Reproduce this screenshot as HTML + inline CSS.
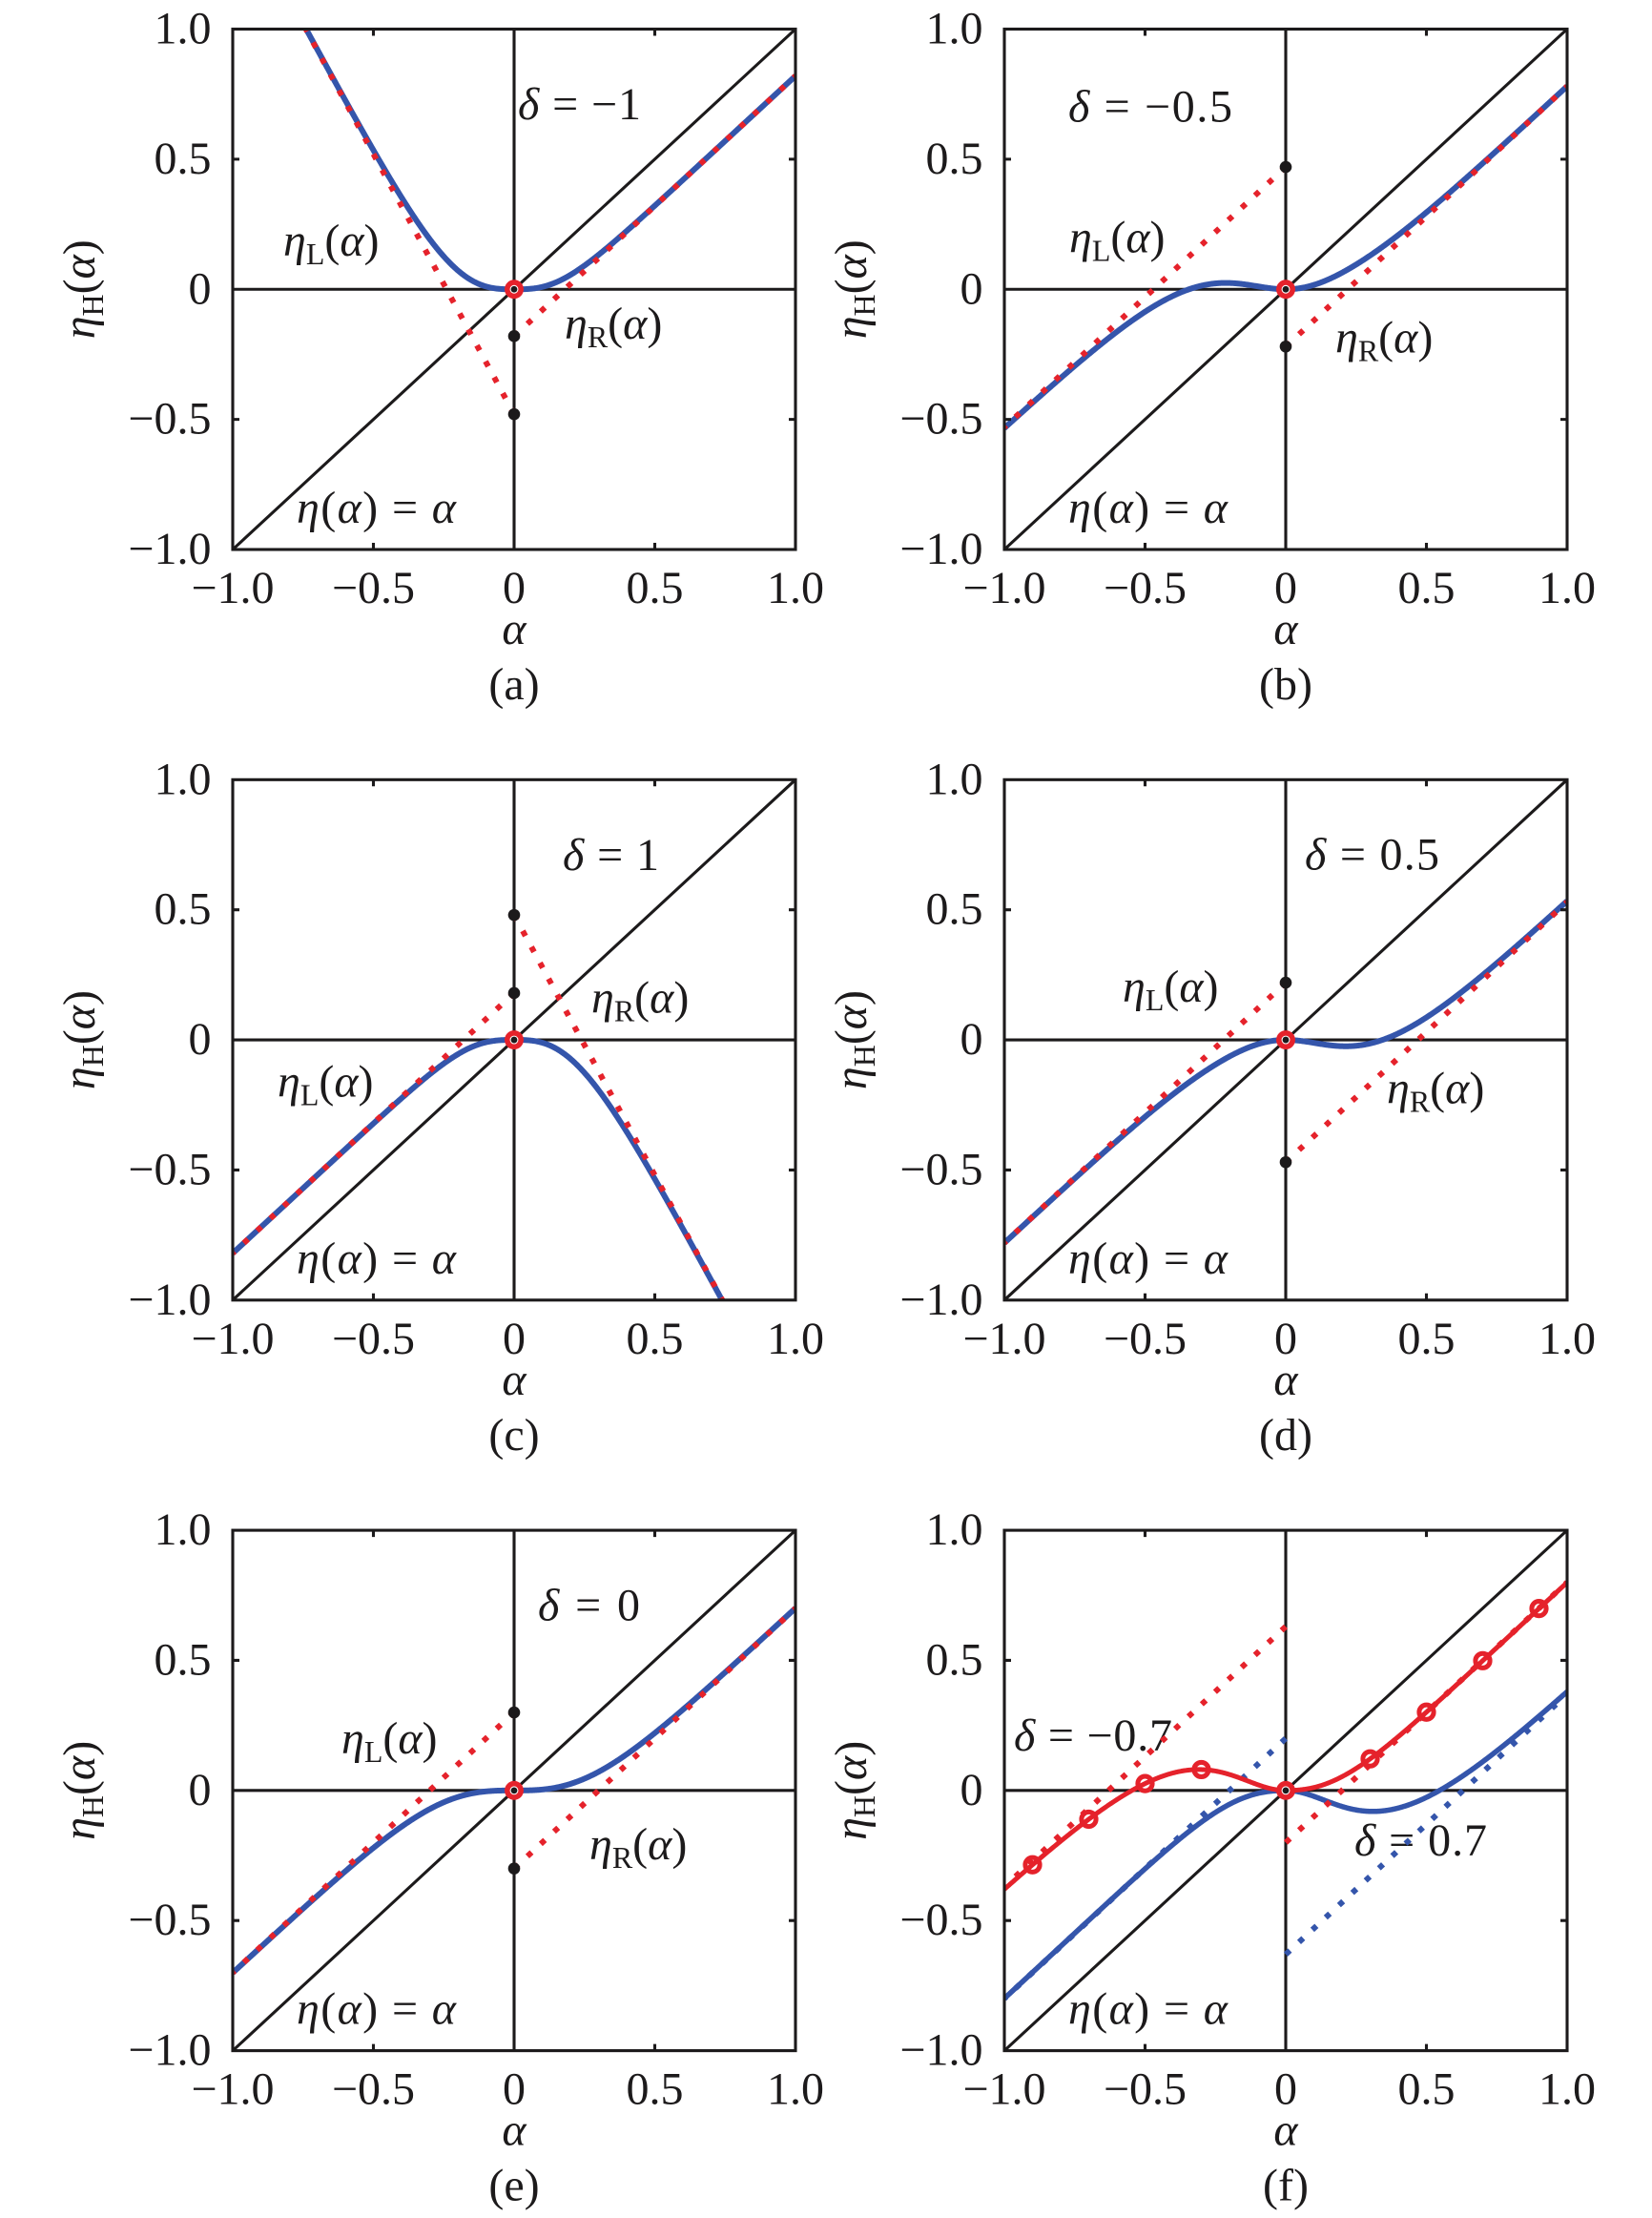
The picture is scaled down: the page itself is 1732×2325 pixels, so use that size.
<!DOCTYPE html>
<html>
<head>
<meta charset="utf-8">
<style>
html,body{margin:0;padding:0;background:#fff;}
svg{display:block;}
text{font-family:"Liberation Serif","DejaVu Serif",serif;font-size:48px;fill:#1c1a1b;}
.ln{fill:none;stroke:#1c1a1b;stroke-width:3.1;}
.it{font-style:italic;}
</style>
</head>
<body>
<svg xmlns="http://www.w3.org/2000/svg" width="1732" height="2325" viewBox="0 0 1732 2325">
<defs><clipPath id="clip" clipPathUnits="userSpaceOnUse"><rect x="0" y="0" width="590" height="545.5"/></clipPath></defs>
<rect x="0" y="0" width="1732" height="2325" fill="#fff"/>

<!-- Panel (a) -->
<g transform="translate(244,30.5)">
 <path class="ln" d="M0 272.75H590M295 0V545.5M0 545.5L590 0"/>
 <text x="299" y="94.5" textLength="129" lengthAdjust="spacing"><tspan class="it">δ</tspan> = −1</text>
 <text x="53" y="237.5"><tspan class="it">η</tspan><tspan font-size="32" dy="9">L</tspan><tspan dy="-9">(</tspan><tspan class="it">α</tspan>)</text>
 <text x="348" y="324.5"><tspan class="it">η</tspan><tspan font-size="32" dy="9">R</tspan><tspan dy="-9">(</tspan><tspan class="it">α</tspan>)</text>
 <text x="67" y="517.5" textLength="167" lengthAdjust="spacing"><tspan class="it">η</tspan>(<tspan class="it">α</tspan>) = <tspan class="it">α</tspan></text>
 <g id="ca"></g>
 <rect class="ln" x="0" y="0" width="590" height="545.5"/>
 <path class="ln" d="M147.5 545.5v-7M442.5 545.5v-7M147.5 0v7M442.5 0v7M0 136.375h7M0 409.125h7M590 136.375h-7M590 409.125h-7"/>
 <g text-anchor="end"><text x="-22.5" y="15">1.0</text><text x="-22.5" y="151.4">0.5</text><text x="-22.5" y="287.75">0</text><text x="-22.5" y="424.1">−0.5</text><text x="-22.5" y="560.5">−1.0</text></g>
 <g text-anchor="middle"><text x="0" y="601.5">−1.0</text><text x="147.5" y="601.5">−0.5</text><text x="295" y="601.5">0</text><text x="442.5" y="601.5">0.5</text><text x="590" y="601.5">1.0</text>
 <text x="295" y="644.5" class="it">α</text><text x="295" y="702.5">(a)</text></g>
 <text transform="translate(-145,272.75) rotate(-90)" text-anchor="middle"><tspan class="it">η</tspan><tspan font-size="32" dy="9">H</tspan><tspan dy="-9">(</tspan><tspan class="it">α</tspan>)</text>
</g>

<!-- Panel (b) -->
<g transform="translate(1053,30.5)">
 <path class="ln" d="M0 272.75H590M295 0V545.5M0 545.5L590 0"/>
 <text x="67" y="97" textLength="172" lengthAdjust="spacing"><tspan class="it">δ</tspan> = −0.5</text>
 <text x="68" y="234"><tspan class="it">η</tspan><tspan font-size="32" dy="9">L</tspan><tspan dy="-9">(</tspan><tspan class="it">α</tspan>)</text>
 <text x="347" y="339"><tspan class="it">η</tspan><tspan font-size="32" dy="9">R</tspan><tspan dy="-9">(</tspan><tspan class="it">α</tspan>)</text>
 <text x="67" y="517.5" textLength="167" lengthAdjust="spacing"><tspan class="it">η</tspan>(<tspan class="it">α</tspan>) = <tspan class="it">α</tspan></text>
 <g id="cb"></g>
 <rect class="ln" x="0" y="0" width="590" height="545.5"/>
 <path class="ln" d="M147.5 545.5v-7M442.5 545.5v-7M147.5 0v7M442.5 0v7M0 136.375h7M0 409.125h7M590 136.375h-7M590 409.125h-7"/>
 <g text-anchor="end"><text x="-22.5" y="15">1.0</text><text x="-22.5" y="151.4">0.5</text><text x="-22.5" y="287.75">0</text><text x="-22.5" y="424.1">−0.5</text><text x="-22.5" y="560.5">−1.0</text></g>
 <g text-anchor="middle"><text x="0" y="601.5">−1.0</text><text x="147.5" y="601.5">−0.5</text><text x="295" y="601.5">0</text><text x="442.5" y="601.5">0.5</text><text x="590" y="601.5">1.0</text>
 <text x="295" y="644.5" class="it">α</text><text x="295" y="702.5">(b)</text></g>
 <text transform="translate(-145,272.75) rotate(-90)" text-anchor="middle"><tspan class="it">η</tspan><tspan font-size="32" dy="9">H</tspan><tspan dy="-9">(</tspan><tspan class="it">α</tspan>)</text>
</g>

<!-- Panel (c) -->
<g transform="translate(244,817.3)">
 <path class="ln" d="M0 272.75H590M295 0V545.5M0 545.5L590 0"/>
 <text x="346" y="94.5" textLength="101" lengthAdjust="spacing"><tspan class="it">δ</tspan> = 1</text>
 <text x="376" y="244"><tspan class="it">η</tspan><tspan font-size="32" dy="9">R</tspan><tspan dy="-9">(</tspan><tspan class="it">α</tspan>)</text>
 <text x="47" y="332"><tspan class="it">η</tspan><tspan font-size="32" dy="9">L</tspan><tspan dy="-9">(</tspan><tspan class="it">α</tspan>)</text>
 <text x="67" y="517.5" textLength="167" lengthAdjust="spacing"><tspan class="it">η</tspan>(<tspan class="it">α</tspan>) = <tspan class="it">α</tspan></text>
 <g id="cc"></g>
 <rect class="ln" x="0" y="0" width="590" height="545.5"/>
 <path class="ln" d="M147.5 545.5v-7M442.5 545.5v-7M147.5 0v7M442.5 0v7M0 136.375h7M0 409.125h7M590 136.375h-7M590 409.125h-7"/>
 <g text-anchor="end"><text x="-22.5" y="15">1.0</text><text x="-22.5" y="151.4">0.5</text><text x="-22.5" y="287.75">0</text><text x="-22.5" y="424.1">−0.5</text><text x="-22.5" y="560.5">−1.0</text></g>
 <g text-anchor="middle"><text x="0" y="601.5">−1.0</text><text x="147.5" y="601.5">−0.5</text><text x="295" y="601.5">0</text><text x="442.5" y="601.5">0.5</text><text x="590" y="601.5">1.0</text>
 <text x="295" y="644.5" class="it">α</text><text x="295" y="702.5">(c)</text></g>
 <text transform="translate(-145,272.75) rotate(-90)" text-anchor="middle"><tspan class="it">η</tspan><tspan font-size="32" dy="9">H</tspan><tspan dy="-9">(</tspan><tspan class="it">α</tspan>)</text>
</g>

<!-- Panel (d) -->
<g transform="translate(1053,817.3)">
 <path class="ln" d="M0 272.75H590M295 0V545.5M0 545.5L590 0"/>
 <text x="315" y="94.4" textLength="141" lengthAdjust="spacing"><tspan class="it">δ</tspan> = 0.5</text>
 <text x="124" y="232.7"><tspan class="it">η</tspan><tspan font-size="32" dy="9">L</tspan><tspan dy="-9">(</tspan><tspan class="it">α</tspan>)</text>
 <text x="401" y="339.4"><tspan class="it">η</tspan><tspan font-size="32" dy="9">R</tspan><tspan dy="-9">(</tspan><tspan class="it">α</tspan>)</text>
 <text x="67" y="517.5" textLength="167" lengthAdjust="spacing"><tspan class="it">η</tspan>(<tspan class="it">α</tspan>) = <tspan class="it">α</tspan></text>
 <g id="cd"></g>
 <rect class="ln" x="0" y="0" width="590" height="545.5"/>
 <path class="ln" d="M147.5 545.5v-7M442.5 545.5v-7M147.5 0v7M442.5 0v7M0 136.375h7M0 409.125h7M590 136.375h-7M590 409.125h-7"/>
 <g text-anchor="end"><text x="-22.5" y="15">1.0</text><text x="-22.5" y="151.4">0.5</text><text x="-22.5" y="287.75">0</text><text x="-22.5" y="424.1">−0.5</text><text x="-22.5" y="560.5">−1.0</text></g>
 <g text-anchor="middle"><text x="0" y="601.5">−1.0</text><text x="147.5" y="601.5">−0.5</text><text x="295" y="601.5">0</text><text x="442.5" y="601.5">0.5</text><text x="590" y="601.5">1.0</text>
 <text x="295" y="644.5" class="it">α</text><text x="295" y="702.5">(d)</text></g>
 <text transform="translate(-145,272.75) rotate(-90)" text-anchor="middle"><tspan class="it">η</tspan><tspan font-size="32" dy="9">H</tspan><tspan dy="-9">(</tspan><tspan class="it">α</tspan>)</text>
</g>

<!-- Panel (e) -->
<g transform="translate(244,1604.1)">
 <path class="ln" d="M0 272.75H590M295 0V545.5M0 545.5L590 0"/>
 <text x="320" y="94.5" textLength="107" lengthAdjust="spacing"><tspan class="it">δ</tspan> = 0</text>
 <text x="114" y="234"><tspan class="it">η</tspan><tspan font-size="32" dy="9">L</tspan><tspan dy="-9">(</tspan><tspan class="it">α</tspan>)</text>
 <text x="374" y="345"><tspan class="it">η</tspan><tspan font-size="32" dy="9">R</tspan><tspan dy="-9">(</tspan><tspan class="it">α</tspan>)</text>
 <text x="67" y="517.5" textLength="167" lengthAdjust="spacing"><tspan class="it">η</tspan>(<tspan class="it">α</tspan>) = <tspan class="it">α</tspan></text>
 <g id="ce"></g>
 <rect class="ln" x="0" y="0" width="590" height="545.5"/>
 <path class="ln" d="M147.5 545.5v-7M442.5 545.5v-7M147.5 0v7M442.5 0v7M0 136.375h7M0 409.125h7M590 136.375h-7M590 409.125h-7"/>
 <g text-anchor="end"><text x="-22.5" y="15">1.0</text><text x="-22.5" y="151.4">0.5</text><text x="-22.5" y="287.75">0</text><text x="-22.5" y="424.1">−0.5</text><text x="-22.5" y="560.5">−1.0</text></g>
 <g text-anchor="middle"><text x="0" y="601.5">−1.0</text><text x="147.5" y="601.5">−0.5</text><text x="295" y="601.5">0</text><text x="442.5" y="601.5">0.5</text><text x="590" y="601.5">1.0</text>
 <text x="295" y="644.5" class="it">α</text><text x="295" y="702.5">(e)</text></g>
 <text transform="translate(-145,272.75) rotate(-90)" text-anchor="middle"><tspan class="it">η</tspan><tspan font-size="32" dy="9">H</tspan><tspan dy="-9">(</tspan><tspan class="it">α</tspan>)</text>
</g>

<!-- Panel (f) -->
<g transform="translate(1053,1604.1)">
 <path class="ln" d="M0 272.75H590M295 0V545.5M0 545.5L590 0"/>
 <text x="10" y="231" textLength="166" lengthAdjust="spacing"><tspan class="it">δ</tspan> = −0.7</text>
 <text x="367" y="341" textLength="139" lengthAdjust="spacing"><tspan class="it">δ</tspan> = 0.7</text>
 <text x="67" y="517.5" textLength="167" lengthAdjust="spacing"><tspan class="it">η</tspan>(<tspan class="it">α</tspan>) = <tspan class="it">α</tspan></text>
 <g id="cf"></g>
 <rect class="ln" x="0" y="0" width="590" height="545.5"/>
 <path class="ln" d="M147.5 545.5v-7M442.5 545.5v-7M147.5 0v7M442.5 0v7M0 136.375h7M0 409.125h7M590 136.375h-7M590 409.125h-7"/>
 <g text-anchor="end"><text x="-22.5" y="15">1.0</text><text x="-22.5" y="151.4">0.5</text><text x="-22.5" y="287.75">0</text><text x="-22.5" y="424.1">−0.5</text><text x="-22.5" y="560.5">−1.0</text></g>
 <g text-anchor="middle"><text x="0" y="601.5">−1.0</text><text x="147.5" y="601.5">−0.5</text><text x="295" y="601.5">0</text><text x="442.5" y="601.5">0.5</text><text x="590" y="601.5">1.0</text>
 <text x="295" y="644.5" class="it">α</text><text x="295" y="702.5">(f)</text></g>
 <text transform="translate(-145,272.75) rotate(-90)" text-anchor="middle"><tspan class="it">η</tspan><tspan font-size="32" dy="9">H</tspan><tspan dy="-9">(</tspan><tspan class="it">α</tspan>)</text>
</g>
</svg>

<script>
(function(){
var NS='http://www.w3.org/2000/svg';
var W=590,H=545.5;
function X(a){return (a+1)/2*W;}
function Y(e){return (1-e)/2*H;}
function sech(x){return 1/Math.cosh(x);}
function sym(cl,dl,cr,dr){return function(a){return a<0? a-cl*Math.tanh(a/cl)+dl*(1-sech(a/0.2)) : a-cr*Math.tanh(a/cr)+dr*(1-sech(a/0.2));};}
function fa(a){return a<0? -2*a-0.48*Math.tanh(-a/0.24) : a-0.18*Math.tanh(a/0.18);}
function neg(f){return function(a){return -f(-a);};}
var RED='#e5222b', BLUE='#3455ab', BLK='#1c1a1b';
function el(g,tag,attrs){var e=document.createElementNS(NS,tag);for(var k in attrs)e.setAttribute(k,attrs[k]);g.appendChild(e);return e;}
function curve(g,f,color,w){var d='';for(var i=0;i<=800;i++){var a=-1+2*i/800;var e=f(a);if(e>1.3)e=1.3;if(e<-1.3)e=-1.3;d+=(i?'L':'M')+X(a).toFixed(2)+' '+Y(e).toFixed(2);}
 el(g,'path',{d:d,fill:'none',stroke:color,'stroke-width':w,'stroke-linejoin':'round','clip-path':'url(#clip)'});}
function dotted(g,m,b,a1,color){el(g,'path',{d:'M'+X(0)+' '+Y(b)+'L'+X(a1)+' '+Y(m*a1+b),fill:'none',stroke:color,'stroke-width':6,'stroke-dasharray':'6 13','clip-path':'url(#clip)'});}
function bdot(g,b){el(g,'circle',{cx:X(0),cy:Y(b),r:6.3,fill:BLK});}
function origin(g){el(g,'circle',{cx:X(0),cy:Y(0),r:7.2,fill:'#fff',stroke:RED,'stroke-width':5.5});el(g,'circle',{cx:X(0),cy:Y(0),r:3.4,fill:BLK});}
function std(id,f,mL,bL,mR,bR){var g=document.getElementById(id);
 curve(g,f,BLUE,6);
 dotted(g,mL,bL,-1,RED);dotted(g,mR,bR,1,RED);
 bdot(g,bL);bdot(g,bR);origin(g);}
std('ca',fa,-2,-0.48,1,-0.18);
std('cb',sym(0.345,0.125,0.345,0.125),1,0.47,1,-0.22);
std('cc',neg(fa),1,0.18,-2,0.48);
std('cd',sym(0.345,-0.125,0.345,-0.125),1,0.22,1,-0.47);
std('ce',sym(0.3,0,0.3,0),1,0.3,1,-0.3);
var g=document.getElementById('cf');
var fr=sym(0.415,0.215,0.26,0.06);
var fb=neg(fr);
curve(g,fb,BLUE,5.5);
dotted(g,1,0.2,-1,BLUE);dotted(g,1,-0.63,1,BLUE);
curve(g,fr,RED,5);
dotted(g,1,0.63,-1,RED);dotted(g,1,-0.2,1,RED);
[-0.9,-0.7,-0.5,-0.3,0.3,0.5,0.7,0.9].forEach(function(a){el(g,'circle',{cx:X(a),cy:Y(fr(a)),r:7.6,fill:'none',stroke:RED,'stroke-width':5});});
origin(g);
})();
</script>
</body>
</html>
